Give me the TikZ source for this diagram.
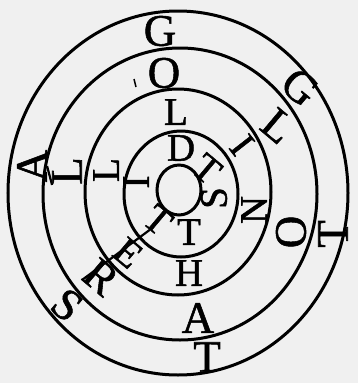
\documentclass[tikz,border=0pt]{standalone}
\usepackage{fontspec}
\newfontfamily\ltrfont{Liberation Serif}[FakeBold=1.2]
\usepackage{tikz}
\definecolor{paper}{RGB}{240,240,240}
\tikzset{
  ring/.style={line width=3pt},
  ltr/.style={inner sep=0pt, font=\ltrfont\fontsize{45}{45}\selectfont},
  ltrin/.style={inner sep=0pt, font=\ltrfont\fontsize{39}{39}\selectfont}
}
\begin{document}
\begin{tikzpicture}[x=1pt,y=-1pt]
  \fill[paper] (0,0) rectangle (358,383);
  \useasboundingbox (0,0) rectangle (358,383);
  % rings, inside out
  \foreach \cx/\cy/\rx/\ry in {179/190/22/25, 181/194/57/63, 178/192/93/103, 180/194/137/146, 178/193/170/182}
    \draw[ring] (\cx,\cy) ellipse [x radius=\rx, y radius=\ry];
  % outer band
  \foreach \n/\x/\y/\r/\l in {g1/160/31/0/G, g2/300/87/-40/G, t1/333/234/90/T,
      t2/207/357/0/T, s1/67/305/-40/S, a1/32/166/90/A}
    \node[ltr, rotate=\r] (\n) at (\x,\y) {\l};
  % second band
  \foreach \n/\x/\y/\r/\l in {o1/164/73/0/O, l1/278/126/-40/L, o2/291/232/90/O,
      a2/198/318/0/A, r2/101/277/-40/R, l2/67/171/90/L}
    \node[ltr, rotate=\r] (\n) at (\x,\y) {\l};
  % third band
  \foreach \n/\x/\y/\r/\l in {l3/176/112/0/L, i3/242/145/-52/I, n3/254/210/90/N,
      h3/189/273/0/H, e3/128/253/-40/E, l4/106/170/90/L}
    \node[ltrin, rotate=\r] (\n) at (\x,\y) {\l};
  % inner band
  \foreach \n/\x/\y/\r/\l in {d5/181/148/0/D, t5/207/169/-40/T, s5/214/198/90/S,
      t6/189/232/0/T, t7/158/220/-40/T, i5/136/182/90/I}
    \node[ltrin, rotate=\r] (\n) at (\x,\y) {\l};
  % long strokes
  \coordinate (stem) at (82,280);
  \draw[line width=2.2pt] (t7.south) -- (stem);
  \draw[line width=2.2pt] (a1.south) -- (l2.north west);
  \draw[line width=1.5pt] (134,79) -- (136,87);
\end{tikzpicture}
\end{document}
